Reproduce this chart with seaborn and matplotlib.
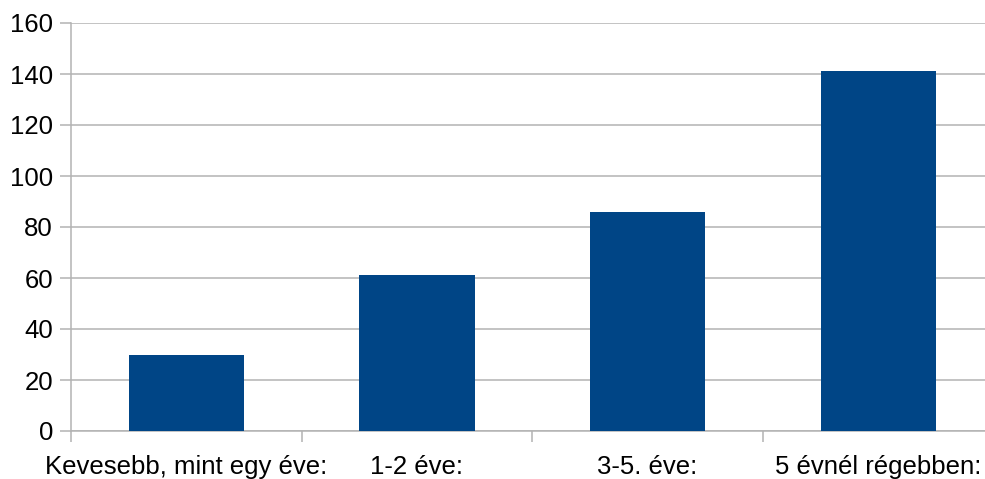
import matplotlib
matplotlib.use("Agg")
import matplotlib.pyplot as plt
import seaborn as sns
import pandas as pd
from matplotlib.ticker import FixedLocator

categories = ["Kevesebb, mint egy éve:", "1-2 éve:", "3-5. éve:", "5 évnél régebben:"]
values = [30, 61, 86, 141]
y_ticks = [0, 20, 40, 60, 80, 100, 120, 140, 160]

sns.set_theme(style="white")
plt.rcParams['font.family'] = ['Liberation Sans', 'DejaVu Sans']

df = pd.DataFrame({"cat": categories, "val": values})

fig = plt.figure(figsize=(9.85, 4.79), dpi=100)
ax = fig.add_axes([71/985, 1 - 431/479, (993.5 - 71)/985, (431 - 23)/479])

sns.barplot(data=df, x="cat", y="val", color="#004586", width=0.5, saturation=1,
            linewidth=0, edgecolor="none", ax=ax, zorder=3)

ax.set_xlim(-0.5, len(categories) - 0.5)
ax.set_ylim(0, 160)
ax.set_yticks(y_ticks)
ax.set_yticklabels([str(t) for t in y_ticks], fontsize=18.5, color="black")
ax.set_xlabel("")
ax.set_ylabel("")

ax.yaxis.grid(True, color="#b3b3b3", linewidth=1.1, zorder=0)
ax.set_axisbelow(True)

for s in ["top", "right", "bottom"]:
    ax.spines[s].set_visible(False)
ax.spines["left"].set_color("#b3b3b3")
ax.spines["left"].set_linewidth(1.1)

ax.tick_params(axis="y", which="major", length=8, width=1.1, color="#b3b3b3", pad=5, left=True)
ax.tick_params(axis="x", which="major", length=0, pad=17, labelsize=18.5, labelcolor="black")
ax.xaxis.set_minor_locator(FixedLocator([i - 0.5 for i in range(len(categories) + 1)]))
ax.tick_params(axis="x", which="minor", length=8, width=1.1, color="#b3b3b3", bottom=True, direction="out")
ax.axhline(0, color="#b3b3b3", linewidth=1.1, zorder=1, clip_on=False)

fig.savefig("out.png", dpi=100)
